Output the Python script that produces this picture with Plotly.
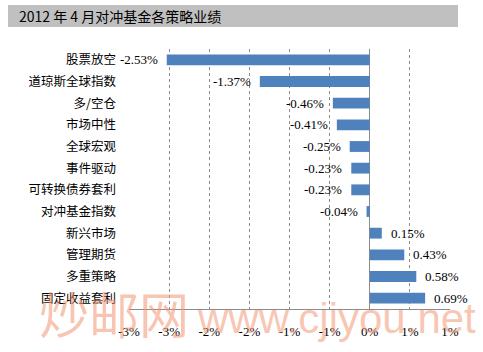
import plotly.graph_objects as go

categories = ["股票放空", "道琼斯全球指数", "多/空仓", "市场中性", "全球宏观", "事件驱动",
              "可转换债券套利", "对冲基金指数", "新兴市场", "管理期货", "多重策略", "固定收益套利"]
values = [-2.53, -1.37, -0.46, -0.41, -0.25, -0.23, -0.23, -0.04, 0.15, 0.43, 0.58, 0.69]
tick_vals = [-3.0, -2.5, -2.0, -1.5, -1.0, -0.5, 0.0, 0.5, 1.0]
tick_text = ["-3%", "-3%", "-2%", "-2%", "-1%", "-1%", "0%", "1%", "1%"]
title_text = "2012 年 4 月对冲基金各策略业绩"

W, H = 483, 352
L, R, T, B = 129, 33, 49, 43
pw, ph = W - L - R, H - T - B

def px_x(px):
    return (px - L) / pw

def px_y(py):
    return (H - B - py) / ph

fig = go.Figure()
fig.add_trace(go.Bar(
    x=values, y=categories, orientation="h",
    marker=dict(color="#4F81BD", line=dict(width=0)),
    width=0.5, hoverinfo="skip",
))

annotations = []
for c, v in zip(categories, values):
    annotations.append(dict(
        x=v, y=c, xref="x", yref="y", text=f"{v:.2f}%", showarrow=False,
        xanchor="left" if v >= 0 else "right", xshift=7 if v >= 0 else -7,
        font=dict(family="Liberation Serif", size=13, color="#000000"),
    ))

# title
annotations.append(dict(
    x=px_x(17), y=px_y(16), xref="paper", yref="paper", text=title_text,
    showarrow=False, xanchor="left", yanchor="middle",
    font=dict(family="Noto Sans CJK SC", size=14, color="#000000"),
))
# watermark
annotations.append(dict(
    x=px_x(114), y=px_y(312), xref="paper", yref="paper", text="炒邮网",
    showarrow=False, xanchor="center", yanchor="middle",
    font=dict(family="Noto Sans CJK SC", size=50, color="rgba(243,150,115,0.55)"),
))
annotations.append(dict(
    x=px_x(336), y=px_y(318), xref="paper", yref="paper", text="www.cjiyou.net",
    showarrow=False, xanchor="center", yanchor="middle",
    font=dict(family="Liberation Sans", size=42, color="rgba(243,150,115,0.55)"),
))

fig.update_layout(
    width=W, height=H,
    margin=dict(l=L, r=R, t=T, b=B, pad=0),
    paper_bgcolor="#FFFFFF", plot_bgcolor="#FFFFFF",
    showlegend=False, bargap=0.5,
    annotations=annotations,
    shapes=[dict(type="rect", xref="paper", yref="paper",
                 x0=px_x(8), x1=px_x(458), y0=px_y(27), y1=px_y(5),
                 fillcolor="#C0C0C0", line=dict(width=0), layer="below")],
    xaxis=dict(
        range=[-3, 1], tickvals=tick_vals, ticktext=tick_text,
        showgrid=True, gridcolor="#8C8C8C", griddash="3px,3px", gridwidth=1,
        zeroline=True, zerolinecolor="#8C8C8C", zerolinewidth=1,
        showline=True, linecolor="#8C8C8C", linewidth=1,
        ticks="", ticklabelstandoff=10,
        tickfont=dict(family="Liberation Serif", size=13, color="#000000"),
        fixedrange=True,
    ),
    yaxis=dict(
        autorange="reversed", showgrid=False, zeroline=False, showline=False,
        ticks="", ticklabelstandoff=12,
        tickfont=dict(family="Noto Sans CJK SC", size=12.5, color="#000000"),
        fixedrange=True,
    ),
)

fig.write_html("out.html")
